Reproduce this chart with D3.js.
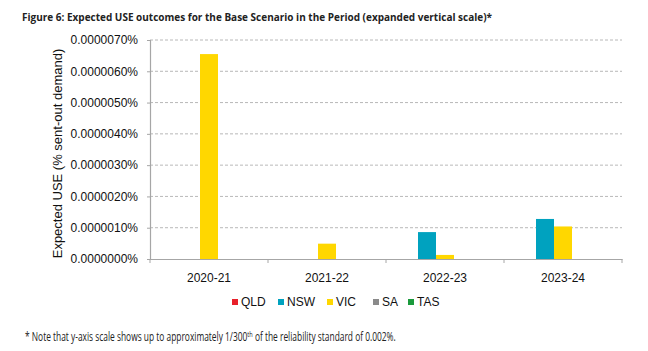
<!DOCTYPE html>
<html>
<head>
<meta charset="utf-8">
<script src="https://cdn.jsdelivr.net/npm/d3@7"></script>
<style>
  body { margin: 0; background: #fff; }
  svg { display: block; font-family: "Liberation Sans", Arial, sans-serif; }
</style>
</head>
<body>
<div id="chart"></div>
<script>
const categories = ["2020-21", "2021-22", "2022-23", "2023-24"];
const seriesNames = ["QLD", "NSW", "VIC", "SA", "TAS"];
// values in % of sent-out demand
const qld = [0, 0, 0, 0];
const nsw = [0, 0, 0.00000086, 0.00000128];
const vic = [0.00000655, 0.00000049, 0.00000013, 0.00000104];
const sa = [0, 0, 0, 0];
const tas = [0, 0, 0, 0];
const yTicks = [0, 0.000001, 0.000002, 0.000003, 0.000004, 0.000005, 0.000006, 0.000007];

(function() {
    const W = 648, H = 351;
    const margin = { top: 40, right: 26, bottom: 92, left: 150 };
    const width = W - margin.left - margin.right;
    const height = H - margin.top - margin.bottom;

    const colors = ["#e8202a", "#00a2bf", "#ffd700", "#8a8a8a", "#1a9a3c"];
    const values = [qld, nsw, vic, sa, tas];

    const data = categories.map((c, i) => ({
        cat: c,
        vals: seriesNames.map((s, j) => ({ key: s, value: values[j][i], color: colors[j] }))
    }));

    const svg = d3.select("#chart").append("svg")
        .attr("width", W).attr("height", H);

    svg.append("text")
        .attr("x", 22).attr("y", 21)
        .style("font-family", "'Open Sans', sans-serif")
        .style("font-weight", "bold")
        .style("font-size", "11px")
        .attr("fill", "#222")
        .attr("textLength", 470)
        .attr("lengthAdjust", "spacingAndGlyphs")
        .text("Figure 6: Expected USE outcomes for the Base Scenario in the Period (expanded vertical scale)*");

    const g = svg.append("g").attr("transform", `translate(${margin.left},${margin.top})`);

    const x0 = d3.scaleBand().domain(categories).range([0, width]).paddingInner(0).paddingOuter(0);
    const groupW = 90;
    const x1 = d3.scaleBand().domain(seriesNames)
        .range([(x0.bandwidth() - groupW) / 2, (x0.bandwidth() + groupW) / 2]);
    const y = d3.scaleLinear().domain([0, 0.000007]).range([height, 0]);

    // gridlines
    g.selectAll(".grid").data(yTicks.slice(1)).enter().append("line")
        .attr("x1", 0).attr("x2", width)
        .attr("y1", d => y(d)).attr("y2", d => y(d))
        .attr("stroke", "#a6a6a6").attr("stroke-dasharray", "3,2").attr("stroke-width", 0.8);

    // bars
    const groups = g.selectAll(".grp").data(data).enter().append("g")
        .attr("transform", d => `translate(${x0(d.cat)},0)`);
    groups.selectAll("rect").data(d => d.vals).enter().append("rect")
        .attr("x", d => x1(d.key))
        .attr("width", x1.bandwidth())
        .attr("y", d => y(d.value))
        .attr("height", d => height - y(d.value))
        .attr("fill", d => d.color);

    // y axis
    const yAxis = g.append("g")
        .call(d3.axisLeft(y).tickValues(yTicks).tickSize(3).tickPadding(9)
            .tickFormat(d => d3.format(".7f")(d) + "%"));
    yAxis.select(".domain").attr("stroke", "#a6a6a6").attr("stroke-width", 1.2);
    yAxis.selectAll(".tick line").attr("stroke", "#a6a6a6");
    yAxis.selectAll("text").style("font-size", "12px").attr("fill", "#111");

    // x axis
    const xAxis = g.append("g").attr("transform", `translate(0,${height})`)
        .call(d3.axisBottom(x0).tickSize(0).tickPadding(14));
    xAxis.select(".domain").attr("stroke", "#a6a6a6").attr("stroke-width", 1.2);
    xAxis.selectAll("text").style("font-size", "12px").attr("fill", "#111");
    const boundaries = categories.map(c => x0(c)).concat([width]);
    xAxis.selectAll(".bound").data(boundaries).enter().append("line")
        .attr("x1", d => d).attr("x2", d => d).attr("y1", 0).attr("y2", 4)
        .attr("stroke", "#a6a6a6");

    // y title
    svg.append("text")
        .attr("transform", `translate(62,${margin.top + height / 2 + 4}) rotate(-90)`)
        .attr("text-anchor", "middle")
        .style("font-size", "13px")
        .attr("fill", "#111")
        .text("Expected USE (% sent-out demand)");

    // legend
    const legendX = [232, 278, 327, 373, 408];
    const legend = svg.selectAll(".leg").data(seriesNames).enter().append("g")
        .attr("transform", (d, i) => `translate(${legendX[i]},303)`);
    legend.append("rect").attr("x", 0).attr("y", -4).attr("width", 6).attr("height", 6)
        .attr("fill", (d, i) => colors[i]);
    legend.append("text").attr("x", 9).attr("y", 3)
        .style("font-size", "12px").attr("fill", "#111").text(d => d);

    // footnote (condensed face in the original, so squeeze horizontally)
    const fn = svg.append("text").attr("transform", "translate(25,341) scale(0.7,1)")
        .style("font-family", "'Open Sans', sans-serif")
        .style("font-size", "12px").attr("fill", "#222");
    fn.append("tspan").text("* Note that y-axis scale shows up to approximately 1/300");
    fn.append("tspan").attr("dy", -4).style("font-size", "8px").text("th");
    fn.append("tspan").attr("dy", 4).text(" of the reliability standard of 0.002%.");
})();
</script>
</body>
</html>
